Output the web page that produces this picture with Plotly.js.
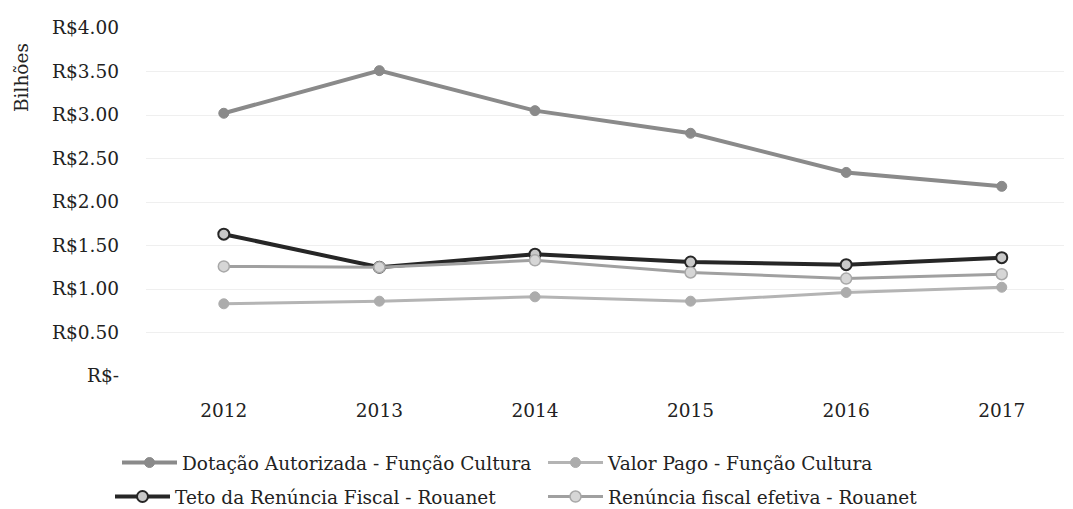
<!DOCTYPE html>
<html>
<head>
<meta charset="utf-8">
<script src="https://cdn.plot.ly/plotly-3.0.1.min.js"></script>
<style>html,body{margin:0;padding:0;background:#fff;}#chart{width:1073px;height:509px;}</style>
</head>
<body>
<div id="chart"></div>
<script>
const years = ["2012", "2013", "2014", "2015", "2016", "2017"];
const dotacaoAutorizada = [3.02, 3.51, 3.05, 2.79, 2.34, 2.18];
const valorPago = [0.83, 0.86, 0.91, 0.86, 0.96, 1.02];
const tetoRenuncia = [1.63, 1.25, 1.40, 1.31, 1.28, 1.36];
const renunciaEfetiva = [1.26, 1.25, 1.33, 1.19, 1.12, 1.17];
const yTickVals = [0, 0.5, 1, 1.5, 2, 2.5, 3, 3.5, 4];
const yTickText = ["R$-", "R$0.50", "R$1.00", "R$1.50", "R$2.00", "R$2.50", "R$3.00", "R$3.50", "R$4.00"];
const seriesNames = ["Dotação Autorizada - Função Cultura", "Valor Pago - Função Cultura", "Teto da Renúncia Fiscal - Rouanet", "Renúncia fiscal efetiva - Rouanet"];

const FONT = "DejaVu Serif";
const FS = 18.5;

const traces = [
  {x: years, y: dotacaoAutorizada, name: seriesNames[0], type: "scatter", mode: "lines+markers",
   line: {color: "#8a8a8a", width: 4}, marker: {color: "#8a8a8a", size: 10, line: {color: "#8a8a8a", width: 1}}, legend: "legend"},
  {x: years, y: valorPago, name: seriesNames[1], type: "scatter", mode: "lines+markers",
   line: {color: "#b4b4b4", width: 3}, marker: {color: "#acacac", size: 10, line: {color: "#acacac", width: 1}}, legend: "legend"},
  {x: years, y: tetoRenuncia, name: seriesNames[2], type: "scatter", mode: "lines+markers",
   line: {color: "#262626", width: 4}, marker: {color: "#c8c8c8", size: 11, line: {color: "#262626", width: 2}}, legend: "legend2"},
  {x: years, y: renunciaEfetiva, name: seriesNames[3], type: "scatter", mode: "lines+markers",
   line: {color: "#a0a0a0", width: 3}, marker: {color: "#d6d6d6", size: 11, line: {color: "#a8a8a8", width: 1.5}}, legend: "legend2"}
];

const legendCommon = {orientation: "h", xref: "paper", yref: "paper", xanchor: "left", yanchor: "middle",
  font: {family: FONT, size: FS, color: "#222"}, itemwidth: 55, entrywidthmode: "pixels",
  bgcolor: "rgba(0,0,0,0)", traceorder: "normal"};

const layout = {
  width: 1073, height: 509,
  margin: {l: 146, r: 9, t: 28, b: 133, autoexpand: false},
  paper_bgcolor: "#ffffff", plot_bgcolor: "#ffffff",
  font: {family: FONT, size: FS, color: "#222"},
  xaxis: {type: "category", range: [-0.5, 5.4], showgrid: false, zeroline: false, showline: false,
    ticks: "", ticklabelstandoff: 21, tickfont: {family: FONT, size: FS, color: "#222"}},
  yaxis: {range: [0, 4], tickvals: yTickVals, ticktext: yTickText, showgrid: true, gridcolor: "#efefef", gridwidth: 1,
    zeroline: false, showline: false, ticks: "", ticklabelstandoff: 26, tickfont: {family: FONT, size: FS, color: "#222"}},
  legend: Object.assign({}, legendCommon, {entrywidth: 356, x: (117 - 146) / 918, y: -(463 - 376) / 348}),
  legend2: Object.assign({}, legendCommon, {entrywidth: 363, x: (110 - 146) / 918, y: -(497 - 376) / 348}),
  annotations: [{text: "Bilhões", xref: "paper", yref: "paper", x: (22 - 146) / 918, y: (376 - 77) / 348,
    showarrow: false, textangle: -90, font: {family: FONT, size: FS, color: "#222"}, xanchor: "center", yanchor: "middle"}],
  showlegend: true
};

Plotly.newPlot("chart", traces, layout, {displayModeBar: false, staticPlot: true});
</script>
</body>
</html>
